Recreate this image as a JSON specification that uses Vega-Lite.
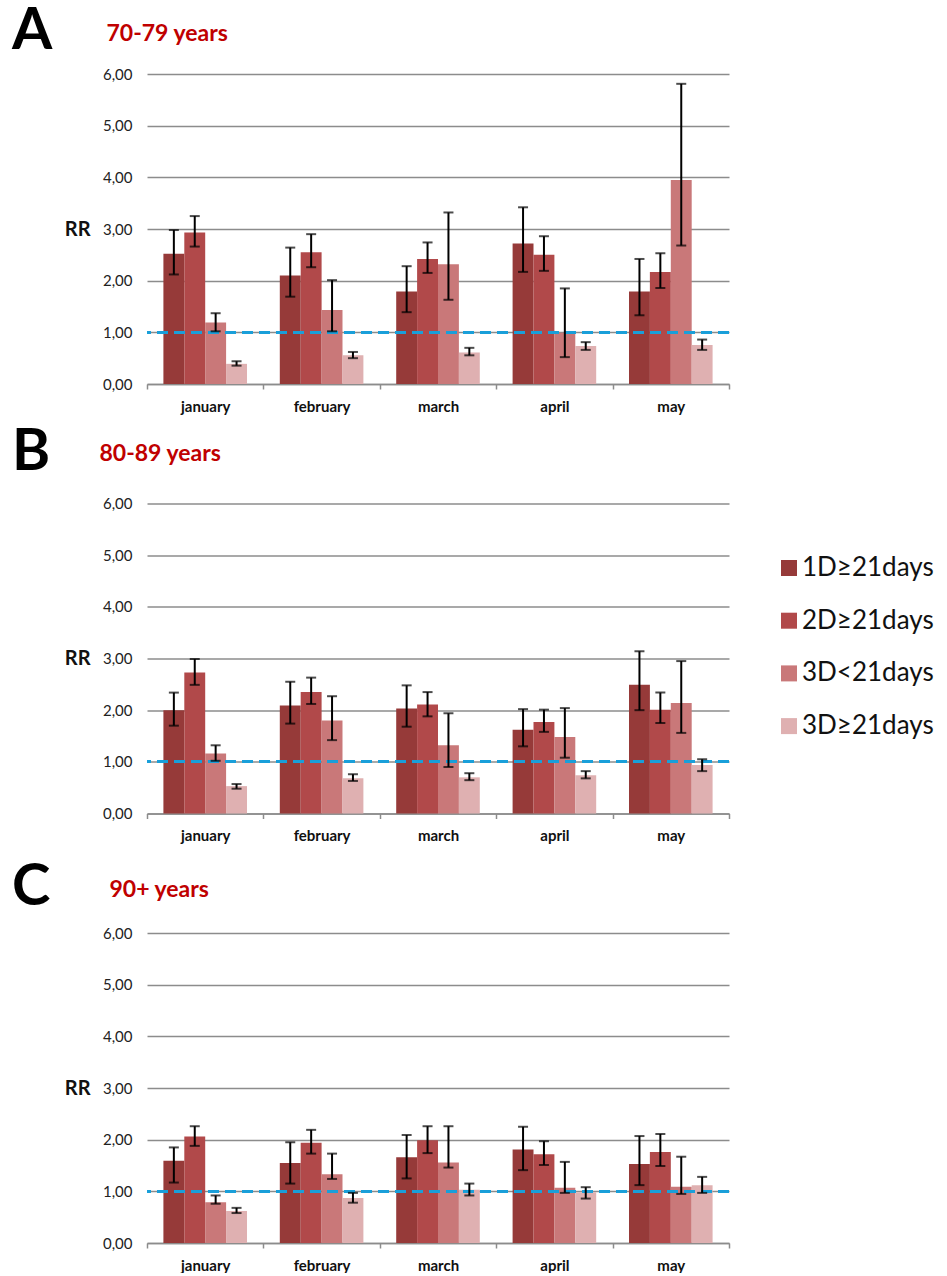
{
  "$schema": "https://vega.github.io/schema/vega-lite/v6.json",
  "background": "white",
  "padding": {"left": 12, "top": 3, "right": 5, "bottom": 0},
  "datasets": {
    "rr": [
      {"p":"A","m":"january","g":"1D≥21days","v":2.52,"lo":2.12,"hi":2.98},
      {"p":"A","m":"january","g":"2D≥21days","v":2.93,"lo":2.66,"hi":3.25},
      {"p":"A","m":"january","g":"3D<21days","v":1.19,"lo":1.02,"hi":1.37},
      {"p":"A","m":"january","g":"3D≥21days","v":0.39,"lo":0.355,"hi":0.44},
      {"p":"A","m":"february","g":"1D≥21days","v":2.10,"lo":1.69,"hi":2.64},
      {"p":"A","m":"february","g":"2D≥21days","v":2.55,"lo":2.26,"hi":2.90},
      {"p":"A","m":"february","g":"3D<21days","v":1.43,"lo":1.02,"hi":2.01},
      {"p":"A","m":"february","g":"3D≥21days","v":0.555,"lo":0.50,"hi":0.62},
      {"p":"A","m":"march","g":"1D≥21days","v":1.79,"lo":1.39,"hi":2.28},
      {"p":"A","m":"march","g":"2D≥21days","v":2.42,"lo":2.15,"hi":2.74},
      {"p":"A","m":"march","g":"3D<21days","v":2.32,"lo":1.63,"hi":3.32},
      {"p":"A","m":"march","g":"3D≥21days","v":0.61,"lo":0.555,"hi":0.70},
      {"p":"A","m":"april","g":"1D≥21days","v":2.72,"lo":2.17,"hi":3.42},
      {"p":"A","m":"april","g":"2D≥21days","v":2.50,"lo":2.19,"hi":2.86},
      {"p":"A","m":"april","g":"3D<21days","v":0.99,"lo":0.52,"hi":1.85},
      {"p":"A","m":"april","g":"3D≥21days","v":0.735,"lo":0.66,"hi":0.81},
      {"p":"A","m":"may","g":"1D≥21days","v":1.79,"lo":1.33,"hi":2.42},
      {"p":"A","m":"may","g":"2D≥21days","v":2.17,"lo":1.86,"hi":2.53},
      {"p":"A","m":"may","g":"3D<21days","v":3.95,"lo":2.68,"hi":5.81},
      {"p":"A","m":"may","g":"3D≥21days","v":0.755,"lo":0.66,"hi":0.86},
      {"p":"B","m":"january","g":"1D≥21days","v":2.00,"lo":1.70,"hi":2.34},
      {"p":"B","m":"january","g":"2D≥21days","v":2.73,"lo":2.49,"hi":2.99},
      {"p":"B","m":"january","g":"3D<21days","v":1.16,"lo":1.02,"hi":1.32},
      {"p":"B","m":"january","g":"3D≥21days","v":0.53,"lo":0.48,"hi":0.57},
      {"p":"B","m":"february","g":"1D≥21days","v":2.09,"lo":1.74,"hi":2.55},
      {"p":"B","m":"february","g":"2D≥21days","v":2.35,"lo":2.12,"hi":2.63},
      {"p":"B","m":"february","g":"3D<21days","v":1.80,"lo":1.42,"hi":2.27},
      {"p":"B","m":"february","g":"3D≥21days","v":0.68,"lo":0.63,"hi":0.76},
      {"p":"B","m":"march","g":"1D≥21days","v":2.03,"lo":1.68,"hi":2.48},
      {"p":"B","m":"march","g":"2D≥21days","v":2.11,"lo":1.88,"hi":2.35},
      {"p":"B","m":"march","g":"3D<21days","v":1.32,"lo":0.90,"hi":1.94},
      {"p":"B","m":"march","g":"3D≥21days","v":0.70,"lo":0.645,"hi":0.78},
      {"p":"B","m":"april","g":"1D≥21days","v":1.62,"lo":1.30,"hi":2.02},
      {"p":"B","m":"april","g":"2D≥21days","v":1.77,"lo":1.58,"hi":2.01},
      {"p":"B","m":"april","g":"3D<21days","v":1.48,"lo":1.08,"hi":2.04},
      {"p":"B","m":"april","g":"3D≥21days","v":0.74,"lo":0.68,"hi":0.82},
      {"p":"B","m":"may","g":"1D≥21days","v":2.49,"lo":2.00,"hi":3.14},
      {"p":"B","m":"may","g":"2D≥21days","v":2.01,"lo":1.75,"hi":2.34},
      {"p":"B","m":"may","g":"3D<21days","v":2.14,"lo":1.56,"hi":2.95},
      {"p":"B","m":"may","g":"3D≥21days","v":0.94,"lo":0.82,"hi":1.05},
      {"p":"C","m":"january","g":"1D≥21days","v":1.59,"lo":1.17,"hi":1.85},
      {"p":"C","m":"january","g":"2D≥21days","v":2.06,"lo":1.88,"hi":2.26},
      {"p":"C","m":"january","g":"3D<21days","v":0.79,"lo":0.76,"hi":0.92},
      {"p":"C","m":"january","g":"3D≥21days","v":0.62,"lo":0.58,"hi":0.68},
      {"p":"C","m":"february","g":"1D≥21days","v":1.55,"lo":1.15,"hi":1.95},
      {"p":"C","m":"february","g":"2D≥21days","v":1.94,"lo":1.73,"hi":2.19},
      {"p":"C","m":"february","g":"3D<21days","v":1.33,"lo":1.24,"hi":1.73},
      {"p":"C","m":"february","g":"3D≥21days","v":0.87,"lo":0.78,"hi":0.97},
      {"p":"C","m":"march","g":"1D≥21days","v":1.66,"lo":1.25,"hi":2.09},
      {"p":"C","m":"march","g":"2D≥21days","v":1.99,"lo":1.74,"hi":2.26},
      {"p":"C","m":"march","g":"3D<21days","v":1.56,"lo":1.46,"hi":2.26},
      {"p":"C","m":"march","g":"3D≥21days","v":1.03,"lo":0.92,"hi":1.15},
      {"p":"C","m":"april","g":"1D≥21days","v":1.81,"lo":1.41,"hi":2.25},
      {"p":"C","m":"april","g":"2D≥21days","v":1.72,"lo":1.51,"hi":1.97},
      {"p":"C","m":"april","g":"3D<21days","v":1.07,"lo":0.97,"hi":1.57},
      {"p":"C","m":"april","g":"3D≥21days","v":0.98,"lo":0.86,"hi":1.08},
      {"p":"C","m":"may","g":"1D≥21days","v":1.53,"lo":1.12,"hi":2.07},
      {"p":"C","m":"may","g":"2D≥21days","v":1.76,"lo":1.49,"hi":2.11},
      {"p":"C","m":"may","g":"3D<21days","v":1.09,"lo":0.95,"hi":1.67},
      {"p":"C","m":"may","g":"3D≥21days","v":1.12,"lo":0.97,"hi":1.28}
    ]
  },
  "data": {"name": "rr"},
  "spacing": 119.5,
  "bounds": "flush",
  "resolve": {"scale": {"color": "shared"}, "legend": {"color": "shared"}},
  "config": {
    "view": {"stroke": null},
    "legend": {"orient": "none"},
    "title": {"anchor": "start", "frame": "group", "dx": -135, "dy": 43, "fontSize": 58, "font": "Lato", "fontWeight": "bold", "color": "black"}
  },
  "vconcat": [
    {
      "width": 582, "height": 310,
      "title": {"text": "A"},
      "transform": [{"filter": "datum.p == 'A'"}],
      "resolve": {"axis": {"x": "independent"}},
      "layer": [
        {"mark": {"type": "bar"},
         "encoding": {
           "x": {"field": "m", "type": "nominal", "sort": ["january","february","march","april","may"], "scale": {"paddingInner": 0, "paddingOuter": 0},
                 "axis": {"orient": "bottom", "tickBand": "extent", "labelFont": "Lato", "labelFontWeight": "bold", "labelFontSize": 15, "labelColor": "#111", "labelAngle": 0, "labelPadding": 10, "tickSize": 5, "tickColor": "#8c8c8c", "tickWidth": 1.5, "domainColor": "#8c8c8c", "domainWidth": 1.5, "title": null, "grid": false}},
           "xOffset": {"field": "g", "sort": ["1D≥21days","2D≥21days","3D<21days","3D≥21days"], "scale": {"paddingOuter": 0.785, "paddingInner": 0}},
           "y": {"field": "v", "type": "quantitative", "scale": {"domain": [0, 6], "nice": false},
                 "axis": {"values": [0,1,2,3,4,5,6], "labelExpr": "replace(format(datum.value,'.2f'),'.',',')", "domain": false, "ticks": false, "labelPadding": 15, "labelFont": "Lato", "labelFontSize": 15, "labelColor": "#222", "gridColor": "#8c8c8c", "gridWidth": 1.5, "title": "RR", "titleAngle": 0, "titleX": -57, "titleY": 155, "titleAlign": "right", "titleBaseline": "middle", "titleFontSize": 20, "titleFont": "Lato", "titleFontWeight": "bold", "titleColor": "#111"}},
           "color": {"field": "g", "type": "nominal", "scale": {"domain": ["1D≥21days","2D≥21days","3D<21days","3D≥21days"], "range": ["#963A39","#B1494A","#C97879","#DFB0B1"]},
                     "legend": {"title": null, "legendX": 629, "legendY": 481, "symbolType": "square", "symbolSize": 256, "symbolStrokeWidth": 0, "labelFont": "Lato", "labelFontSize": 26, "labelColor": "#111", "labelOffset": 0, "rowPadding": 26.7, "labelLimit": 300}}
         }},
        {"mark": {"type": "rule", "color": "#1a9fd9", "strokeDash": [11, 6], "strokeWidth": 2.2},
         "encoding": {"y": {"datum": 1, "type": "quantitative"}}},
        {"mark": {"type": "rule", "color": "black", "strokeWidth": 2},
         "encoding": {
           "x": {"field": "m", "type": "nominal", "sort": ["january","february","march","april","may"], "axis": null},
           "xOffset": {"field": "g", "sort": ["1D≥21days","2D≥21days","3D<21days","3D≥21days"]},
           "y": {"field": "lo", "type": "quantitative"}, "y2": {"field": "hi"}}},
        {"mark": {"type": "tick", "color": "black", "size": 10, "thickness": 2},
         "encoding": {
           "x": {"field": "m", "type": "nominal", "sort": ["january","february","march","april","may"], "axis": null},
           "xOffset": {"field": "g", "sort": ["1D≥21days","2D≥21days","3D<21days","3D≥21days"]},
           "y": {"field": "lo", "type": "quantitative"}}},
        {"mark": {"type": "tick", "color": "black", "size": 10, "thickness": 2},
         "encoding": {
           "x": {"field": "m", "type": "nominal", "sort": ["january","february","march","april","may"],
                 "axis": {"orient": "top", "labels": false, "ticks": false, "domain": false, "grid": false, "title": "70-79 years", "titleColor": "#C00000", "titleFontSize": 23, "titleFont": "Lato", "titleFontWeight": "bold", "titleX": -41, "titleY": -34, "titleAlign": "left", "titleBaseline": "alphabetic"}},
           "xOffset": {"field": "g", "sort": ["1D≥21days","2D≥21days","3D<21days","3D≥21days"]},
           "y": {"field": "hi", "type": "quantitative"}}}
      ]
    },
    {
      "width": 582, "height": 310,
      "title": {"text": "B"},
      "transform": [{"filter": "datum.p == 'B'"}],
      "resolve": {"axis": {"x": "independent"}},
      "layer": [
        {"mark": {"type": "bar"},
         "encoding": {
           "x": {"field": "m", "type": "nominal", "sort": ["january","february","march","april","may"], "scale": {"paddingInner": 0, "paddingOuter": 0},
                 "axis": {"orient": "bottom", "tickBand": "extent", "labelFont": "Lato", "labelFontWeight": "bold", "labelFontSize": 15, "labelColor": "#111", "labelAngle": 0, "labelPadding": 10, "tickSize": 5, "tickColor": "#8c8c8c", "tickWidth": 1.5, "domainColor": "#8c8c8c", "domainWidth": 1.5, "title": null, "grid": false}},
           "xOffset": {"field": "g", "sort": ["1D≥21days","2D≥21days","3D<21days","3D≥21days"], "scale": {"paddingOuter": 0.785, "paddingInner": 0}},
           "y": {"field": "v", "type": "quantitative", "scale": {"domain": [0, 6], "nice": false},
                 "axis": {"values": [0,1,2,3,4,5,6], "labelExpr": "replace(format(datum.value,'.2f'),'.',',')", "domain": false, "ticks": false, "labelPadding": 15, "labelFont": "Lato", "labelFontSize": 15, "labelColor": "#222", "gridColor": "#8c8c8c", "gridWidth": 1.5, "title": "RR", "titleAngle": 0, "titleX": -57, "titleY": 155, "titleAlign": "right", "titleBaseline": "middle", "titleFontSize": 20, "titleFont": "Lato", "titleFontWeight": "bold", "titleColor": "#111"}},
           "color": {"field": "g", "type": "nominal", "scale": {"domain": ["1D≥21days","2D≥21days","3D<21days","3D≥21days"], "range": ["#963A39","#B1494A","#C97879","#DFB0B1"]},
                     "legend": {"title": null, "legendX": 629, "legendY": 481, "symbolType": "square", "symbolSize": 256, "symbolStrokeWidth": 0, "labelFont": "Lato", "labelFontSize": 26, "labelColor": "#111", "labelOffset": 0, "rowPadding": 26.7, "labelLimit": 300}}
         }},
        {"mark": {"type": "rule", "color": "#1a9fd9", "strokeDash": [11, 6], "strokeWidth": 2.2},
         "encoding": {"y": {"datum": 1, "type": "quantitative"}}},
        {"mark": {"type": "rule", "color": "black", "strokeWidth": 2},
         "encoding": {
           "x": {"field": "m", "type": "nominal", "sort": ["january","february","march","april","may"], "axis": null},
           "xOffset": {"field": "g", "sort": ["1D≥21days","2D≥21days","3D<21days","3D≥21days"]},
           "y": {"field": "lo", "type": "quantitative"}, "y2": {"field": "hi"}}},
        {"mark": {"type": "tick", "color": "black", "size": 10, "thickness": 2},
         "encoding": {
           "x": {"field": "m", "type": "nominal", "sort": ["january","february","march","april","may"], "axis": null},
           "xOffset": {"field": "g", "sort": ["1D≥21days","2D≥21days","3D<21days","3D≥21days"]},
           "y": {"field": "lo", "type": "quantitative"}}},
        {"mark": {"type": "tick", "color": "black", "size": 10, "thickness": 2},
         "encoding": {
           "x": {"field": "m", "type": "nominal", "sort": ["january","february","march","april","may"],
                 "axis": {"orient": "top", "labels": false, "ticks": false, "domain": false, "grid": false, "title": "80-89 years", "titleColor": "#C00000", "titleFontSize": 23, "titleFont": "Lato", "titleFontWeight": "bold", "titleX": -48, "titleY": -43, "titleAlign": "left", "titleBaseline": "alphabetic"}},
           "xOffset": {"field": "g", "sort": ["1D≥21days","2D≥21days","3D<21days","3D≥21days"]},
           "y": {"field": "hi", "type": "quantitative"}}}
      ]
    },
    {
      "width": 582, "height": 310,
      "title": {"text": "C"},
      "transform": [{"filter": "datum.p == 'C'"}],
      "resolve": {"axis": {"x": "independent"}},
      "layer": [
        {"mark": {"type": "bar"},
         "encoding": {
           "x": {"field": "m", "type": "nominal", "sort": ["january","february","march","april","may"], "scale": {"paddingInner": 0, "paddingOuter": 0},
                 "axis": {"orient": "bottom", "tickBand": "extent", "labelFont": "Lato", "labelFontWeight": "bold", "labelFontSize": 15, "labelColor": "#111", "labelAngle": 0, "labelPadding": 10, "tickSize": 5, "tickColor": "#8c8c8c", "tickWidth": 1.5, "domainColor": "#8c8c8c", "domainWidth": 1.5, "title": null, "grid": false}},
           "xOffset": {"field": "g", "sort": ["1D≥21days","2D≥21days","3D<21days","3D≥21days"], "scale": {"paddingOuter": 0.785, "paddingInner": 0}},
           "y": {"field": "v", "type": "quantitative", "scale": {"domain": [0, 6], "nice": false},
                 "axis": {"values": [0,1,2,3,4,5,6], "labelExpr": "replace(format(datum.value,'.2f'),'.',',')", "domain": false, "ticks": false, "labelPadding": 15, "labelFont": "Lato", "labelFontSize": 15, "labelColor": "#222", "gridColor": "#8c8c8c", "gridWidth": 1.5, "title": "RR", "titleAngle": 0, "titleX": -57, "titleY": 155, "titleAlign": "right", "titleBaseline": "middle", "titleFontSize": 20, "titleFont": "Lato", "titleFontWeight": "bold", "titleColor": "#111"}},
           "color": {"field": "g", "type": "nominal", "scale": {"domain": ["1D≥21days","2D≥21days","3D<21days","3D≥21days"], "range": ["#963A39","#B1494A","#C97879","#DFB0B1"]},
                     "legend": {"title": null, "legendX": 629, "legendY": 481, "symbolType": "square", "symbolSize": 256, "symbolStrokeWidth": 0, "labelFont": "Lato", "labelFontSize": 26, "labelColor": "#111", "labelOffset": 0, "rowPadding": 26.7, "labelLimit": 300}}
         }},
        {"mark": {"type": "rule", "color": "#1a9fd9", "strokeDash": [11, 6], "strokeWidth": 2.2},
         "encoding": {"y": {"datum": 1, "type": "quantitative"}}},
        {"mark": {"type": "rule", "color": "black", "strokeWidth": 2},
         "encoding": {
           "x": {"field": "m", "type": "nominal", "sort": ["january","february","march","april","may"], "axis": null},
           "xOffset": {"field": "g", "sort": ["1D≥21days","2D≥21days","3D<21days","3D≥21days"]},
           "y": {"field": "lo", "type": "quantitative"}, "y2": {"field": "hi"}}},
        {"mark": {"type": "tick", "color": "black", "size": 10, "thickness": 2},
         "encoding": {
           "x": {"field": "m", "type": "nominal", "sort": ["january","february","march","april","may"], "axis": null},
           "xOffset": {"field": "g", "sort": ["1D≥21days","2D≥21days","3D<21days","3D≥21days"]},
           "y": {"field": "lo", "type": "quantitative"}}},
        {"mark": {"type": "tick", "color": "black", "size": 10, "thickness": 2},
         "encoding": {
           "x": {"field": "m", "type": "nominal", "sort": ["january","february","march","april","may"],
                 "axis": {"orient": "top", "labels": false, "ticks": false, "domain": false, "grid": false, "title": "90+ years", "titleColor": "#C00000", "titleFontSize": 23, "titleFont": "Lato", "titleFontWeight": "bold", "titleX": -38, "titleY": -37, "titleAlign": "left", "titleBaseline": "alphabetic"}},
           "xOffset": {"field": "g", "sort": ["1D≥21days","2D≥21days","3D<21days","3D≥21days"]},
           "y": {"field": "hi", "type": "quantitative"}}}
      ]
    }
  ]
}
